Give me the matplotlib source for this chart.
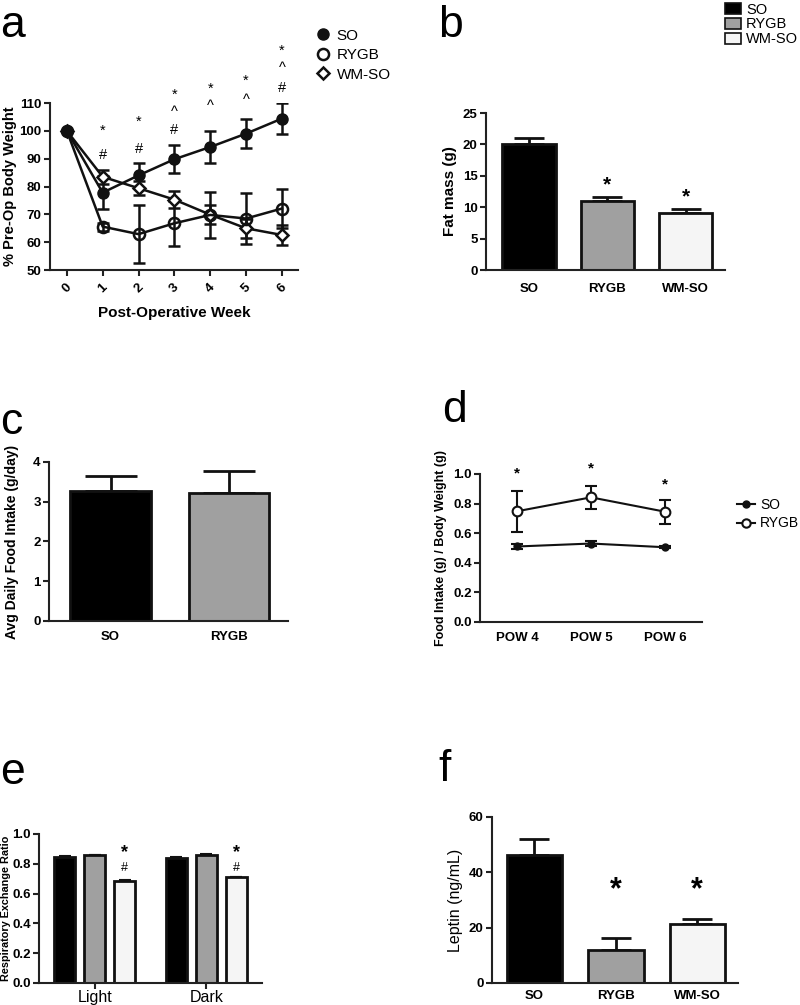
import numpy as np
import matplotlib.pyplot as plt
from matplotlib.lines import Line2D
from matplotlib.patches import Patch

plt.rcParams['font.family'] = ['Liberation Sans', 'DejaVu Sans']

# panel a: % pre-op body weight
weeks = [0, 1, 2, 3, 4, 5, 6]
so_bw = [100, 77.8, 84.0, 89.8, 94.2, 99.0, 104.4]
so_bw_err = [0, 6.0, 4.5, 5.0, 5.7, 5.3, 5.6]
rygb_bw = [100, 65.6, 62.9, 66.8, 69.8, 68.5, 72.1]
rygb_bw_err = [0, 1.4, 10.5, 8.0, 8.4, 9.0, 7.0]
wmso_bw = [100, 83.5, 79.4, 75.3, 69.9, 65.0, 62.6]
wmso_bw_err = [0, 2.5, 2.5, 3.0, 3.5, 3.5, 3.5]
sig_a = [(1, 100.2, '*'), (1, 91.4, '#'),
         (2, 103.4, '*'), (2, 93.6, '#'),
         (3, 113.0, '*'), (3, 106.9, '^'), (3, 100.4, '#'),
         (4, 115.2, '*'), (4, 108.8, '^'),
         (5, 118.0, '*'), (5, 111.0, '^'),
         (6, 128.6, '*'), (6, 122.4, '^'), (6, 115.4, '#')]

# panel b: fat mass
groups3 = ['SO', 'RYGB', 'WM-SO']
fat_mass = [20.1, 11.0, 9.1]
fat_mass_err = [0.9, 0.6, 0.6]

# panel c: avg daily food intake
groups2 = ['SO', 'RYGB']
food = [3.27, 3.22]
food_err = [0.37, 0.55]

# panel d: food intake / body weight
pow_labels = ['POW 4', 'POW 5', 'POW 6']
so_fi = [0.51, 0.53, 0.505]
so_fi_err = [0.015, 0.015, 0.005]
rygb_fi = [0.748, 0.842, 0.745]
rygb_fi_err = [0.14, 0.077, 0.082]
sig_d = [1.0, 1.034, 0.928]

# panel e: RER
phases = ['Light', 'Dark']
rer_so = [0.845, 0.840]
rer_rygb = [0.856, 0.858]
rer_wmso = [0.684, 0.709]
rer_err = [0.005, 0.005]

# panel f: leptin
leptin = [46.1, 11.8, 21.4]
leptin_err = [5.8, 4.6, 1.7]

colors = ['#000000', '#a0a0a0', '#f5f5f5']


def style_axes(ax):
    for s in ['top', 'right']:
        ax.spines[s].set_visible(False)
    for s in ['left', 'bottom']:
        ax.spines[s].set_linewidth(1.5)
        ax.spines[s].set_color('#222222')
    ax.tick_params(width=1.5, length=4, pad=2, labelsize=9.5, color='#222222')
    for lab in ax.get_yticklabels() + ax.get_xticklabels():
        lab.set_fontweight('bold')


def bars(ax, vals, errs, cap=11):
    x = np.arange(len(vals))
    for i in range(len(vals)):
        ax.bar(x[i], vals[i], width=0.68, color=colors[i], edgecolor='#111111',
               linewidth=2, zorder=2)
        ax.errorbar(x[i], vals[i], yerr=[[0], [errs[i]]], color='#111111',
                    capsize=cap, elinewidth=2, capthick=2, zorder=1)
    return x


fig = plt.figure(figsize=(8, 10.05), dpi=100)

# ---- a ----
ax = fig.add_axes([0.0625, 0.7313, 0.31, 0.1662])
kw = dict(color='#111111', linewidth=1.8, elinewidth=1.8, capsize=4, capthick=1.8)
ax.errorbar(weeks, wmso_bw, yerr=wmso_bw_err, marker='D', mfc='white', mew=1.8, markersize=6, **kw)
ax.errorbar(weeks, rygb_bw, yerr=rygb_bw_err, marker='o', mfc='none', mew=1.8, markersize=8, **kw)
ax.errorbar(weeks, so_bw, yerr=so_bw_err, marker='o', mfc='#111111', markersize=8, **kw)
for wx, wy, s in sig_a:
    ax.text(wx, wy, s, ha='center', va='center', fontsize=10.5, clip_on=False)
ax.set_xlim(-0.47, 6.45)
ax.set_ylim(50, 110)
ax.set_yticks([50, 60, 70, 80, 90, 100, 110])
ax.set_xticks(weeks)
ax.set_xticklabels([str(w) for w in weeks], rotation=45)
ax.set_xlabel('Post-Operative Week', fontsize=11, fontweight='bold', labelpad=8)
ax.set_ylabel('% Pre-Op Body Weight', fontsize=10.5, fontweight='bold', labelpad=2)
style_axes(ax)
ax.tick_params(axis='x', pad=4)
leg_h = [Line2D([], [], marker='o', color='#111111', ls='none', markersize=8),
         Line2D([], [], marker='o', mfc='none', mec='#111111', mew=1.8, ls='none', markersize=8),
         Line2D([], [], marker='D', mfc='none', mec='#111111', mew=1.8, ls='none', markersize=6)]
fig.legend(leg_h, ['SO', 'RYGB', 'WM-SO'], loc='upper left', bbox_to_anchor=(0.375, 0.985),
           frameon=False, fontsize=11, handletextpad=0.3, labelspacing=0.35, handlelength=1.2)
fig.text(0.0, 0.995, 'a', fontsize=32, va='top')

# ---- b ----
ax = fig.add_axes([0.6075, 0.7313, 0.29875, 0.1562])
x = bars(ax, fat_mass, fat_mass_err)
ax.text(1, 13.6, '*', ha='center', va='center', fontsize=15, fontweight='bold')
ax.text(2, 11.7, '*', ha='center', va='center', fontsize=15, fontweight='bold')
ax.set_xlim(-0.55, 2.5)
ax.set_ylim(0, 25)
ax.set_xticks(x)
ax.set_xticklabels(groups3)
ax.set_ylabel('Fat mass (g)', fontsize=11, fontweight='bold')
style_axes(ax)
ax.tick_params(axis='x', length=0, pad=9)
leg_p = [Patch(facecolor=c, edgecolor='#111111', linewidth=1.2) for c in colors]
fig.legend(leg_p, groups3, loc='upper left', bbox_to_anchor=(0.895, 1.006), frameon=False,
           fontsize=10.5, handlelength=1.1, handleheight=0.8, handletextpad=0.35, labelspacing=0.05,
           borderaxespad=0.2)
fig.text(0.548, 0.995, 'b', fontsize=32, va='top')

# ---- c ----
ax = fig.add_axes([0.06125, 0.3821, 0.29875, 0.1582])
x = bars(ax, food, food_err, cap=19)
ax.set_xlim(-0.52, 1.5)
ax.set_ylim(0, 4)
ax.set_yticks([0, 1, 2, 3, 4])
ax.set_xticks(x)
ax.set_xticklabels(groups2)
ax.set_ylabel('Avg Daily Food Intake (g/day)', fontsize=10, fontweight='bold', labelpad=10)
style_axes(ax)
ax.tick_params(axis='x', length=0, pad=7)
fig.text(0.0, 0.6, 'c', fontsize=32, va='top')

# ---- d ----
ax = fig.add_axes([0.6, 0.3811, 0.2775, 0.1473])
xp = np.arange(len(pow_labels))
ax.errorbar(xp, so_fi, yerr=so_fi_err, marker='o', color='#111111', markersize=5,
            linewidth=1.5, elinewidth=1.5, capsize=4, capthick=1.5)
ax.errorbar(xp, rygb_fi, yerr=rygb_fi_err, marker='o', mfc='white', mec='#111111', mew=1.5,
            color='#111111', markersize=7, linewidth=1.5, elinewidth=1.5, capsize=4,
            capthick=1.5)
for i, v in enumerate(sig_d):
    ax.text(xp[i], v, '*', ha='center', va='center', fontsize=11, fontweight='bold')
ax.set_xlim(-0.5, 2.5)
ax.set_ylim(0, 1.0)
ax.set_yticks([0, 0.2, 0.4, 0.6, 0.8, 1.0])
ax.set_xticks(xp)
ax.set_xticklabels(pow_labels)
ax.set_ylabel('Food Intake (g) / Body Weight (g)', fontsize=9, fontweight='bold')
style_axes(ax)
ax.tick_params(axis='x', length=0, pad=7)
leg_d = [Line2D([], [], marker='o', color='#111111', markersize=5, linewidth=1.5),
         Line2D([], [], marker='o', mfc='white', mec='#111111', mew=1.5, color='#111111',
                markersize=6, linewidth=1.5)]
ax.legend(leg_d, ['SO', 'RYGB'], loc='upper left', bbox_to_anchor=(1.1, 0.92), frameon=False,
          fontsize=10, handlelength=1.3, handletextpad=0.4, labelspacing=0.3)
fig.text(0.553, 0.612, 'd', fontsize=32, va='top')

# ---- e ----
ax = fig.add_axes([0.04875, 0.0219, 0.27875, 0.1483])
xg = np.arange(len(phases))
off = 0.27
for j, (vals, c) in enumerate(zip([rer_so, rer_rygb, rer_wmso], colors)):
    ax.bar(xg + (j - 1) * off, vals, width=0.19, color=c, edgecolor='#111111', linewidth=2, zorder=2)
    ax.errorbar(xg + (j - 1) * off, vals, yerr=[[0, 0], rer_err], ls='none', color='#111111',
                capsize=4, elinewidth=1.5, capthick=1.5, zorder=1)
for i in range(len(phases)):
    ax.text(xg[i] + off, 0.872, '*', ha='center', va='center', fontsize=13, fontweight='bold')
    ax.text(xg[i] + off, 0.77, '#', ha='center', va='center', fontsize=9)
ax.set_xlim(-0.5, 1.5)
ax.set_ylim(0, 1.0)
ax.set_yticks([0, 0.2, 0.4, 0.6, 0.8, 1.0])
ax.set_xticks(xg)
ax.set_ylabel('Respiratory Exchange Ratio', fontsize=7.8, fontweight='bold', labelpad=1)
style_axes(ax)
ax.set_xticklabels(phases, fontsize=11.5, fontweight='normal')
ax.tick_params(axis='x', pad=1)
fig.text(0.0, 0.252, 'e', fontsize=32, va='top')

# ---- f ----
ax = fig.add_axes([0.615, 0.0219, 0.3075, 0.1652])
x = bars(ax, leptin, leptin_err)
ax.text(1, 33.5, '*', ha='center', va='center', fontsize=22, fontweight='bold')
ax.text(2, 33.5, '*', ha='center', va='center', fontsize=22, fontweight='bold')
ax.set_xlim(-0.52, 2.5)
ax.set_ylim(0, 60)
ax.set_yticks([0, 20, 40, 60])
ax.set_xticks(x)
ax.set_xticklabels(groups3)
ax.set_ylabel('Leptin (ng/mL)', fontsize=11.5)
style_axes(ax)
ax.tick_params(axis='x', length=0, pad=5)
fig.text(0.548, 0.255, 'f', fontsize=32, va='top')

fig.savefig('out.png', dpi=100)
